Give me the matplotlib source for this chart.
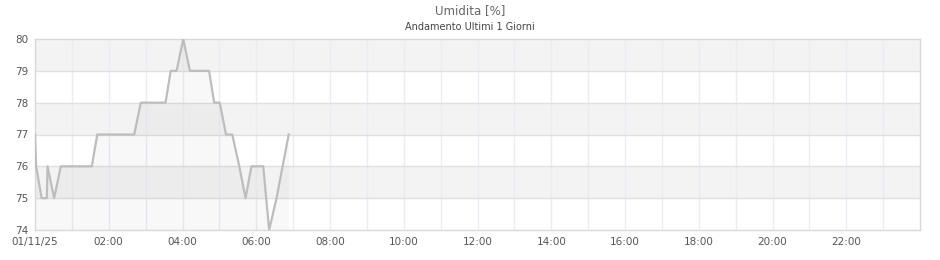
import matplotlib.pyplot as plt

# ore dall'inizio del giorno, umidita %
ore = [0.0, 0.03, 0.18, 0.32, 0.34, 0.52, 0.70, 1.54, 1.69, 2.69, 2.87, 3.54,
       3.68, 3.84, 4.02, 4.20, 4.72, 4.86, 5.01, 5.18, 5.35, 5.54, 5.71, 5.87,
       6.19, 6.35, 6.55, 6.88]
umidita = [77, 76, 75, 75, 76, 75, 76, 76, 77, 77, 78, 78,
           79, 79, 80, 79, 79, 78, 78, 77, 77, 76, 75, 76,
           76, 74, 75, 77]
tick_ore = [0, 2, 4, 6, 8, 10, 12, 14, 16, 18, 20, 22]
tick_label = ['01/11/25', '02:00', '04:00', '06:00', '08:00', '10:00', '12:00',
              '14:00', '16:00', '18:00', '20:00', '22:00']

fig = plt.figure(figsize=(9.4, 2.6), dpi=100)
ax = fig.add_axes([35/940, 30/260, 885/940, 191/260])

# bande orizzontali alternate
for y in [74, 76, 78]:
    ax.axhspan(y + 1, y + 2, color='#f3f3f3', zorder=0, lw=0)

for h in range(1, 24):
    ax.axvline(h, color='#ececf8', lw=1, zorder=1)
for y in range(75, 80):
    ax.axhline(y, color='#e0e0e0', lw=1, zorder=1)

ax.fill_between(ore, umidita, 74, color='black', alpha=0.028, lw=0, zorder=2)
ax.plot(ore, umidita, color='#bdbdbd', lw=1.6, zorder=3)

ax.set_xlim(0, 24)
ax.set_ylim(74, 80)
ax.set_xticks(tick_ore)
ax.set_xticklabels(tick_label)
ax.set_yticks(range(74, 81))
ax.tick_params(length=0, labelsize=7.5, colors='#555555', pad=5)
for s in ax.spines.values():
    s.set_color('#d8d8d8')
    s.set_linewidth(1)

fig.text(0.5, 1 - 11/260, 'Umidita [%]', ha='center', va='center',
         fontsize=8.5, color='#666666')
fig.text(0.5, 1 - 27/260, 'Andamento Ultimi 1 Giorni', ha='center', va='center',
         fontsize=7, color='#444444')

fig.savefig('out.png', dpi=100)
